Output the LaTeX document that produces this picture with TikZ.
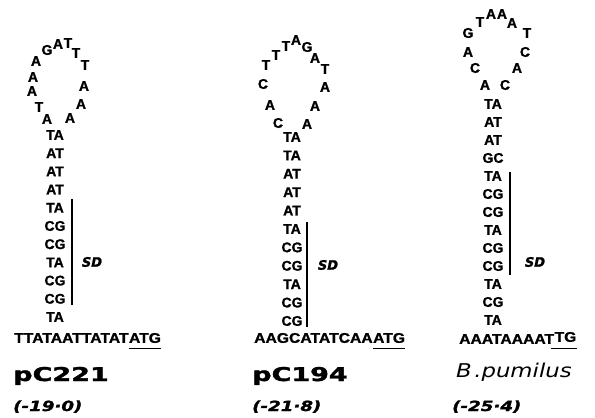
\documentclass[tikz,border=0pt]{standalone}
\usepackage{fontspec}
\setmainfont{Liberation Sans}[BoldFeatures={FakeBold=1.2}]
\newfontfamily\labfont{DejaVu Sans}[BoldFeatures={FakeBold=1.6}, BoldItalicFeatures={FakeBold=1.6}]
\newfontfamily\spfont{DejaVu Sans}
\begin{document}
\begin{tikzpicture}[x=1pt,y=-1pt,
  nt/.style={inner sep=0pt, font=\fontsize{14}{14}\selectfont\bfseries},
  seq/.style={nt, xscale=1.12},
  bar/.style={line width=1.8pt},
  uline/.style={line width=1.3pt},
  sdlab/.style={inner sep=0pt, font=\labfont\fontsize{13}{13}\selectfont\bfseries\itshape},
  plasmid/.style={inner sep=0pt, anchor=base west, font=\labfont\fontsize{19}{19}\selectfont\bfseries, xscale=1.42},
  species/.style={inner sep=0pt, anchor=base west, font=\spfont\fontsize{19}{19}\selectfont\itshape, xscale=1.2},
  dg/.style={inner sep=0pt, anchor=base west, font=\labfont\fontsize{14}{14}\selectfont\bfseries\itshape, xscale=1.3}]
\useasboundingbox (0,0) rectangle (595,418);

% ---------- pC221 hairpin ----------
\foreach \x/\y/\l [count=\i] in {47/119/A, 39/107/T, 32/91/A, 33/77/A, 36/61/A, 47/50/G,
    58/44/A, 68/43/T, 76/53/T, 85/65/T, 84/86/A, 81/104/A, 70/118/A}
  \node[nt] (la\i) at (\x,\y) {\l};
\foreach \p [count=\i from 0] in {TA,AT,AT,AT,TA,CG,CG,TA,CG,CG,TA}
  \node[nt] (sa\i) at (55,{135+18.2*\i}) {\p};
\coordinate (bara1) at (72,199);
\coordinate (bara2) at (72,305);
\draw[bar] (bara1) -- (bara2);
\node[sdlab] (sda) at (92,262) {SD};
\node[seq, anchor=west] (ba) at (14,338) {TTATAATTATAT};
\node[seq, anchor=base west] (ca) at (ba.base east) {ATG};
\draw[uline] ([yshift=-5pt]ca.south west) -- ([yshift=-5pt]ca.south east);
\node[plasmid] (na) at (13,381) {pC221};
\node[dg] (ga) at (13,411) {(-19·0)};

% ---------- pC194 hairpin ----------
\foreach \x/\y/\l [count=\i] in {278/123/C, 270/105/A, 263/84/C, 266/65/T, 276/55/T, 286/46/T,
    296/40/A, 307/47/G, 315/58/A, 325/69/T, 325/87/A, 315/106/A, 307/124/A}
  \node[nt] (lb\i) at (\x,\y) {\l};
\foreach \p [count=\i from 0] in {TA,TA,AT,AT,AT,TA,CG,CG,TA,CG,CG}
  \node[nt] (sb\i) at (292,{137+18.4*\i}) {\p};
\coordinate (barb1) at (307,222);
\coordinate (barb2) at (307,327);
\draw[bar] (barb1) -- (barb2);
\node[sdlab] (sdb) at (328,265) {SD};
\node[seq, anchor=west] (bb) at (254,338) {AAGCATATCAA};
\node[seq, anchor=base west] (cb) at (bb.base east) {ATG};
\draw[uline] ([yshift=-5pt]cb.south west) -- ([yshift=-5pt]cb.south east);
\node[plasmid] (nb) at (252,381) {pC194};
\node[dg] (gb) at (252,411) {(-21·8)};

% ---------- B. pumilus hairpin ----------
\foreach \x/\y/\l [count=\i] in {485/85/A, 475/68/C, 468/52/A, 468/33/G, 480/22/T, 491/14/A,
    502/14/A, 512/23/A, 527/33/T, 525/52/C, 517/68/A, 505/85/C}
  \node[nt] (lc\i) at (\x,\y) {\l};
\foreach \p [count=\i from 0] in {TA,AT,AT,GC,TA,CG,CG,TA,CG,CG,TA,CG,TA}
  \node[nt] (sc\i) at (493,{104+18*\i}) {\p};
\coordinate (barc1) at (510,172);
\coordinate (barc2) at (510,275);
\draw[bar] (barc1) -- (barc2);
\node[sdlab] (sdc) at (535,262) {SD};
\node[seq, anchor=west] (bc) at (459,339) {AAATAAAAT};
\node[seq, anchor=base west] (cc) at ([yshift=2pt]bc.base east) {TG};
\draw[uline] ([xshift=-3pt,yshift=-6pt]cc.south west) -- ([yshift=-6pt]cc.south east);
\node[species] (nc) at (456,377) {B\kern2pt.pumilus};
\node[dg] (gc) at (452,411) {(-25·4)};
\end{tikzpicture}
\end{document}
